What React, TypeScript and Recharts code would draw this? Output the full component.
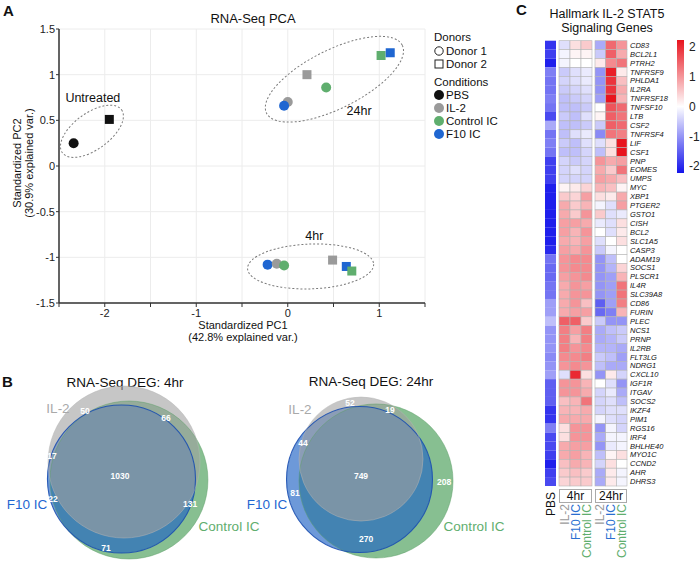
import React from 'react';
import { ScatterChart, Scatter, XAxis, YAxis, CartesianGrid, ReferenceArea } from 'recharts';

const FONT = '"Liberation Sans", Arial, Helvetica, sans-serif';

// ---------------- Panel A: PCA ----------------
const conditionNames = ['PBS', 'IL-2', 'Control IC', 'F10 IC'];
const conditionColors = ['#111111', '#9a9a9a', '#5fae6e', '#1f66d1'];
const pcaCondition = ['PBS', 'PBS', 'IL-2', 'F10 IC', 'IL-2', 'Control IC', 'Control IC', 'F10 IC', 'F10 IC', 'IL-2', 'Control IC', 'IL-2', 'F10 IC', 'Control IC'];
const pcaDonor = [1, 2, 1, 1, 2, 1, 2, 2, 1, 1, 1, 2, 2, 2];
const pcaPC1 = [-2.34, -1.95, 0.0, -0.04, 0.21, 0.42, 1.02, 1.12, -0.22, -0.12, -0.04, 0.49, 0.64, 0.7];
const pcaPC2 = [0.25, 0.51, 0.7, 0.66, 1.0, 0.86, 1.21, 1.24, -1.08, -1.07, -1.09, -1.03, -1.1, -1.15];
const pcaXTicks = [-2.5, -2, -1.5, -1, -0.5, 0, 0.5, 1, 1.5];
const pcaYTicks = [-1.5, -1, -0.5, 0, 0.5, 1, 1.5];

const groupNames = ['Untreated', '24hr', '4hr'];
const groupCenterPC1 = [-2.14, 0.51, 0.25];
const groupCenterPC2 = [0.38, 0.95, -1.1];
const groupSemiMajor = [0.4, 0.83, 0.69];
const groupSemiMinor = [0.2, 0.32, 0.245];
const groupAngle = [-36, -26.6, -2];
const groupLabelPC1 = [-2.13, 0.78, 0.29];
const groupLabelPC2 = [0.74, 0.6, -0.77];

// ---------------- Panel B: Venn ----------------
const vennSets = ['Control IC', 'F10 IC', 'IL-2'];
const vennFill = ['#5fa96c', '#1f62c4', '#a0a0a0'];
const vennFillOpacity = [0.75, 0.65, 0.6];
const vennStroke = ['#5c9e68', '#1b4fb0', '#b5b5b5'];
const venn4hX = [0.053, -0.047, -0.013];
const venn4hY = [-0.067, -0.053, 0.173];
const venn4hR = [1.053, 0.987, 1.013];
const venn24hX = [0.08, -0.14, -0.12];
const venn24hY = [-0.08, -0.06, 0.213];
const venn24hR = [1.027, 0.973, 0.827];
const venn4hCounts = ['50', '66', '17', '1030', '22', '131', '71'];
const venn4hCountX = [-0.533, 0.547, -0.973, -0.067, -0.96, 0.867, -0.253];
const venn4hCountY = [0.853, 0.76, 0.253, -0.013, -0.32, -0.387, -0.973];
const venn24hCounts = ['52', '19', '44', '749', '81', '208', '270'];
const venn24hCountX = [-0.267, 0.267, -0.893, -0.12, -1.0, 0.987, -0.053];
const venn24hCountY = [0.96, 0.867, 0.427, -0.013, -0.24, -0.093, -0.853];

// ---------------- Panel C: heatmap ----------------
const genes = ['CD83', 'BCL2L1', 'PTRH2', 'TNFRSF9', 'PHLDA1', 'IL2RA', 'TNFRSF18', 'TNFSF10', 'LTB', 'CSF2', 'TNFRSF4', 'LIF', 'CSF1', 'PNP', 'EOMES', 'UMPS', 'MYC', 'XBP1', 'PTGER2', 'GSTO1', 'CISH', 'BCL2', 'SLC1A5', 'CASP3', 'ADAM19', 'SOCS1', 'PLSCR1', 'IL4R', 'SLC39A8', 'CD86', 'FURIN', 'PLEC', 'NCS1', 'PRNP', 'IL2RB', 'FLT3LG', 'NDRG1', 'CXCL10', 'IGF1R', 'ITGAV', 'SOCS2', 'IKZF4', 'PIM1', 'RGS16', 'IRF4', 'BHLHE40', 'MYO1C', 'CCND2', 'AHR', 'DHRS3'];
const hmPBS = [-1.9, -1.8, -2.1, -1.2, -1.3, -1.3, -1.2, -1.3, -1.7, -0.8, -1.3, -1.2, -1.3, -1.8, -1.8, -1.8, -2.1, -2.1, -2.1, -2.1, -2.1, -2.1, -2.1, -2.0, -1.3, -1.4, -1.4, -1.3, -1.3, -0.9, -0.9, -0.6, -1.0, -1.0, -1.0, -1.1, -1.0, -0.9, -1.5, -1.5, -1.5, -1.9, -1.9, -1.2, -1.7, -1.7, -1.8, -2.1, -1.8, -1.7];
const hmIL2_4h = [-0.3, -0.1, -0.1, -0.5, -0.4, -0.5, -0.6, -0.6, -0.5, -0.6, -0.6, -0.5, -0.6, -0.4, -0.4, -0.4, 0.1, 0.5, 0.8, 0.8, 0.9, 0.9, 0.8, 0.9, 1.0, 1.0, 0.9, 0.8, 0.8, 0.8, 0.8, 1.5, 1.2, 1.2, 1.2, 1.1, 1.0, -0.3, 1.0, 1.0, 0.6, 0.7, 0.8, 0.3, 0.3, 0.8, 0.8, 0.6, 0.5, 0.4];
const hmF10_4h = [0.3, 0.1, 0.0, -0.3, -0.3, -0.4, -0.5, -0.6, -0.6, -0.6, -0.3, -0.6, -0.6, -0.5, -0.3, -0.4, 0.2, 0.4, 0.5, 0.5, 0.9, 0.7, 0.7, 0.8, 1.1, 1.1, 1.0, 1.0, 1.0, 1.0, 0.9, 1.5, 0.9, 0.7, 1.0, 1.1, 1.1, 2.0, 1.0, 1.0, 0.7, 0.7, 0.8, 1.0, 1.0, 0.9, 0.9, 0.8, 0.6, 0.5];
const hmCtrl_4h = [0.5, 0.1, 0.0, -0.2, -0.2, -0.3, -0.4, -0.5, -0.3, -0.5, -0.2, -0.3, -0.4, -0.4, -0.4, -0.4, 0.4, 0.9, 0.7, 1.0, 0.8, 1.0, 0.9, 1.0, 1.1, 1.1, 1.1, 0.9, 1.0, 0.6, 0.9, 0.5, 1.2, 1.2, 1.1, 1.2, 1.0, 0.3, 0.7, 0.8, 1.3, 0.8, 0.8, 1.0, 1.0, 0.9, 0.7, 0.7, 0.5, 0.5];
const hmIL2_24h = [-0.8, -0.5, 0.2, -1.0, -1.0, -1.0, -0.9, 0.0, 0.1, -0.5, -1.1, -0.3, -0.6, 1.0, 0.8, 0.9, 0.7, 0.3, -0.1, 0.5, -0.2, 0.0, -0.3, -0.5, -1.0, -1.0, -1.0, -1.0, -1.0, -1.5, -1.4, -0.5, -0.8, -0.8, -0.7, -0.5, -0.6, -1.0, 0.0, -0.4, -0.4, -0.4, -0.1, -1.0, -0.8, -1.0, -0.6, -0.4, -0.8, -0.8];
const hmF10_24h = [1.4, 1.5, 1.1, 2.1, 1.9, 1.9, 2.2, 1.6, 1.5, 1.5, 1.3, 0.3, 0.3, 0.8, 0.5, 0.8, 0.6, 0.2, -0.3, -0.3, -0.3, -0.3, 0.0, -0.1, -0.6, -0.7, -0.9, -0.9, -0.9, -0.9, -1.2, -1.0, -0.6, -0.7, -0.7, -0.6, -0.8, 0.2, -0.3, -0.2, -0.3, -0.3, -0.3, -0.1, -0.1, -0.2, 0.1, 0.3, 0.2, 0.2];
const hmCtrl_24h = [1.0, 0.8, 1.3, 0.2, 0.6, 0.8, 0.7, 1.4, 1.3, 1.4, 1.2, 2.2, 2.2, 0.9, 1.3, 0.6, 0.1, 0.8, 0.9, -0.2, 0.3, 0.2, 0.3, 0.0, 0.0, 0.4, 0.7, 1.3, 1.3, 1.2, 0.7, -1.0, -0.5, -0.5, -0.8, -0.9, -0.8, -0.4, -1.0, -0.8, -0.6, -0.3, -0.4, -0.4, -0.1, -0.1, 0.3, 0.0, -0.1, -0.1];
const colorbarTicks = [-2, -1, 0, 1, 2];

// ---------------- helpers ----------------
const condColor = (c: string) => conditionColors[conditionNames.indexOf(c)];

function heatColor(v: number) {
  const t = Math.max(-1, Math.min(1, v / 2.2));
  let r, g, b;
  if (t >= 0) {
    r = 255 + t * (232 - 255);
    g = 255 + t * (20 - 255);
    b = 255 + t * (30 - 255);
  } else {
    const s = -t;
    r = 255 + s * (20 - 255);
    g = 255 + s * (20 - 255);
    b = 255 + s * (235 - 255);
  }
  return `rgb(${Math.round(r)},${Math.round(g)},${Math.round(b)})`;
}

const T = ({ x, y, size = 12, color = '#111', weight = 400, anchor = 'middle', rotate = 0, italic = false, children }: any) => (
  <div
    style={{
      position: 'absolute',
      left: x,
      top: y,
      transform: `translate(${anchor === 'middle' ? '-50%' : anchor === 'end' ? '-100%' : '0'}, -50%) rotate(${rotate}deg)`,
      fontSize: size,
      color,
      fontWeight: weight,
      fontStyle: italic ? 'italic' : 'normal',
      whiteSpace: 'nowrap',
      lineHeight: 1,
      fontFamily: FONT,
    }}
  >
    {children}
  </div>
);

// PCA plot geometry
const PCA_W = 430, PCA_H = 345;
const PCA_M = { top: 29, right: 5, left: 0, bottom: 22 };
const PCA_YW = 59, PCA_XH = 20;
const PCA_KX = (PCA_W - PCA_M.left - PCA_M.right - PCA_YW) / 4;
const PCA_KY = (PCA_H - PCA_M.top - PCA_M.bottom - PCA_XH) / 3;

const sampleData = pcaPC1.map((x, i) => ({ x, y: pcaPC2[i], cond: pcaCondition[i], donor: pcaDonor[i] }));
const ellipseData = groupNames.map((n, i) => ({ x: groupCenterPC1[i], y: groupCenterPC2[i], a: groupSemiMajor[i], b: groupSemiMinor[i], angle: groupAngle[i] }));
const groupLabelData = groupNames.map((n, i) => ({ x: groupLabelPC1[i], y: groupLabelPC2[i], name: n }));

const SampleShape = (p: any) => {
  const { cx, cy, payload } = p;
  const c = condColor(payload.cond);
  if (payload.donor === 2) return <rect x={cx - 4.5} y={cy - 4.5} width={9} height={9} fill={c} />;
  return <circle cx={cx} cy={cy} r={5} fill={c} />;
};
const EllipseShape = (p: any) => {
  const { cx, cy, payload } = p;
  const k = (PCA_KX + PCA_KY) / 2;
  return (
    <ellipse cx={cx} cy={cy} rx={payload.a * k} ry={payload.b * k} transform={`rotate(${payload.angle} ${cx} ${cy})`}
      fill="none" stroke="#7a7a7a" strokeWidth={1} strokeDasharray="2 2" />
  );
};
const GroupLabelShape = (p: any) => (
  <text x={p.cx} y={p.cy} textAnchor="middle" dominantBaseline="central" fontSize={12.5} fill="#111" fontFamily={FONT}>{p.payload.name}</text>
);

function PcaChart() {
  return (
    <div style={{ position: 'absolute', left: 0, top: 0 }}>
      <ScatterChart width={PCA_W} height={PCA_H} margin={PCA_M}>
        <CartesianGrid stroke="#ececec" />
        <XAxis type="number" dataKey="x" domain={[-2.5, 1.5]} ticks={pcaXTicks} interval={0} height={PCA_XH}
          tickFormatter={(v: number) => (Number.isInteger(v) ? String(v) : '')}
          tick={{ fontSize: 11, fill: '#222', fontFamily: FONT }} tickSize={4} tickMargin={2}
          axisLine={{ stroke: '#333', strokeWidth: 1.5 }} tickLine={{ stroke: '#333' }} />
        <YAxis type="number" dataKey="y" domain={[-1.5, 1.5]} ticks={pcaYTicks} interval={0} width={PCA_YW}
          tickFormatter={(v: number) => String(v)}
          tick={{ fontSize: 11, fill: '#222', fontFamily: FONT }} tickSize={3} tickMargin={1}
          axisLine={{ stroke: '#333', strokeWidth: 1.5 }} tickLine={{ stroke: '#333' }} />
        <Scatter data={ellipseData} shape={EllipseShape} isAnimationActive={false} />
        <Scatter data={groupLabelData} shape={GroupLabelShape} isAnimationActive={false} />
        <Scatter data={sampleData} shape={SampleShape} isAnimationActive={false} />
      </ScatterChart>
    </div>
  );
}

function PcaLegend() {
  const rows = [
    { kind: 'title', text: 'Donors', y: 37 },
    { kind: 'donor1', text: 'Donor 1', y: 51 },
    { kind: 'donor2', text: 'Donor 2', y: 64 },
    { kind: 'title', text: 'Conditions', y: 82 },
    ...conditionNames.map((c, i) => ({ kind: 'cond', text: c, y: [95, 108, 121, 134][i], color: conditionColors[i] })),
  ];
  return (
    <svg style={{ position: 'absolute', left: 0, top: 0 }} width={530} height={150}>
      {rows.map((r: any, i) => (
        <g key={i}>
          {r.kind === 'donor1' && <circle cx={439} cy={r.y} r={4.2} fill="none" stroke="#222" strokeWidth={1} />}
          {r.kind === 'donor2' && <rect x={435} y={r.y - 4} width={8} height={8} fill="none" stroke="#222" strokeWidth={1} />}
          {r.kind === 'cond' && <circle cx={439} cy={r.y} r={5} fill={r.color} />}
          <text x={r.kind === 'title' ? 434 : 446} y={r.y} dominantBaseline="central" fontSize={11.5} fill="#111" fontFamily={FONT}>{r.text}</text>
        </g>
      ))}
    </svg>
  );
}

// Venn
const VENN_W = 250, VENN_H = 180, VENN_K = 75;
function VennChart({ left, cx, cy, cr, labels, lx, ly }: any) {
  const circles = vennSets.map((s, i) => ({ x: cx[i], y: cy[i], r: cr[i], i }));
  const counts = labels.map((t: string, i: number) => ({ x: lx[i], y: ly[i], t }));
  const FillShape = (p: any) => (
    <circle cx={p.cx} cy={p.cy} r={p.payload.r * VENN_K} fill={vennFill[p.payload.i]} fillOpacity={vennFillOpacity[p.payload.i]} stroke="none" />
  );
  const StrokeShape = (p: any) => (
    <circle cx={p.cx} cy={p.cy} r={p.payload.r * VENN_K} fill="none" stroke={vennStroke[p.payload.i]} strokeWidth={p.payload.i === 1 ? 1.1 : 0.8} strokeOpacity={p.payload.i === 1 ? 0.9 : 0.6} />
  );
  const CountShape = (p: any) => (
    <text x={p.cx} y={p.cy} textAnchor="middle" dominantBaseline="central" fontSize={8.5} fontWeight={700} fill="#ffffff" fontFamily={FONT}>{p.payload.t}</text>
  );
  return (
    <div style={{ position: 'absolute', left, top: 385 }}>
      <ScatterChart width={VENN_W} height={VENN_H} margin={{ top: 0, right: 0, bottom: 0, left: 0 }}>
        <XAxis type="number" dataKey="x" domain={[-VENN_W / 2 / VENN_K, VENN_W / 2 / VENN_K]} hide />
        <YAxis type="number" dataKey="y" domain={[-VENN_H / 2 / VENN_K, VENN_H / 2 / VENN_K]} hide />
        <Scatter data={circles} shape={FillShape} isAnimationActive={false} />
        <Scatter data={circles} shape={StrokeShape} isAnimationActive={false} />
        <Scatter data={counts} shape={CountShape} isAnimationActive={false} />
      </ScatterChart>
    </div>
  );
}

// Heatmap
const HM_TOP = 40.7, HM_H = 445.3, HM_XH = 75;
function HeatBlock({ left, plotW, cols, labelOffset, showGenes, bordered }: any) {
  const n = cols.length;
  const data: any[] = [];
  cols.forEach((c: any, ci: number) => c.values.forEach((v: number, ri: number) => data.push({ x: ci, y: ri, v })));
  const cw = plotW / n;
  const ch = HM_H / genes.length;
  const geneW = 70;
  const width = 5 + plotW + (showGenes ? geneW : 5);
  const CellShape = (p: any) => (
    <rect x={p.cx - cw / 2} y={p.cy - ch / 2} width={cw} height={ch} fill={heatColor(p.payload.v)}
      stroke={bordered ? '#b4b4b4' : 'none'} strokeWidth={0.6} />
  );
  const ColTick = (p: any) => {
    const c = cols[p.payload.value];
    if (!c) return <g />;
    return (
      <text transform={`translate(${p.x + 4},${p.y + labelOffset}) rotate(-90)`} textAnchor="end" fontSize={12} fill={c.color} fontFamily={FONT}>{c.label}</text>
    );
  };
  return (
    <div style={{ position: 'absolute', left: left - 5, top: 0 }}>
      <ScatterChart width={width} height={HM_TOP + HM_H + HM_XH} margin={{ top: HM_TOP, left: 5, right: showGenes ? 0 : 5, bottom: 0 }}>
        <XAxis type="number" dataKey="x" domain={[-0.5, n - 0.5]} ticks={cols.map((_: any, i: number) => i)} interval={0}
          height={HM_XH} tickLine={false} axisLine={false} tickSize={0} tickMargin={0} tick={ColTick} />
        {showGenes ? (
          <YAxis type="number" dataKey="y" domain={[-0.5, genes.length - 0.5]} reversed orientation="right" width={geneW}
            ticks={genes.map((_, i) => i)} interval={0} tickFormatter={(v: number) => genes[v] ?? ''}
            tickLine={false} axisLine={false} tickSize={0} tickMargin={3}
            tick={{ fontSize: 7.5, fontStyle: 'italic', fill: '#111', fontFamily: FONT, textAnchor: 'start' }} />
        ) : (
          <YAxis type="number" dataKey="y" domain={[-0.5, genes.length - 0.5]} reversed hide />
        )}
        <Scatter data={data} shape={CellShape} isAnimationActive={false} />
      </ScatterChart>
    </div>
  );
}

function Colorbar() {
  return (
    <div style={{ position: 'absolute', left: 672, top: 0 }}>
      <ScatterChart width={34} height={200} margin={{ top: 40, left: 5, right: 0, bottom: 27 }}>
        <XAxis type="number" dataKey="x" domain={[0, 1]} hide />
        <YAxis type="number" dataKey="y" domain={[-2.23, 2.23]} orientation="right" width={22} ticks={colorbarTicks}
          interval={0} tickLine={false} axisLine={false} tickSize={0} tickMargin={5}
          tick={{ fontSize: 12, fill: '#222', fontFamily: FONT }} />
        <ReferenceArea x1={0} x2={1} y1={-2.23} y2={2.23} fill="url(#hmGrad)" fillOpacity={1} stroke="none" />
        <Scatter data={colorbarTicks.map((t) => ({ x: 0.5, y: t }))} shape={() => <g />} isAnimationActive={false} />
      </ScatterChart>
    </div>
  );
}

const c4 = [
  { label: 'IL-2', color: '#9a9a9a', values: hmIL2_4h },
  { label: 'F10 IC', color: '#2a6fd0', values: hmF10_4h },
  { label: 'Control IC', color: '#5fae6e', values: hmCtrl_4h },
];
const c24 = [
  { label: 'IL-2', color: '#9a9a9a', values: hmIL2_24h },
  { label: 'F10 IC', color: '#2a6fd0', values: hmF10_24h },
  { label: 'Control IC', color: '#5fae6e', values: hmCtrl_24h },
];
const cPBS = [{ label: 'PBS', color: '#111', values: hmPBS }];

export default function App() {
  return (
    <div style={{ position: 'absolute', left: 0, top: 0, width: 700, height: 565, overflow: 'hidden', background: '#fff', fontFamily: FONT }}>
      <svg width={0} height={0} style={{ position: 'absolute' }}>
        <defs>
          <linearGradient id="hmGrad" x1="0" y1="0" x2="0" y2="1">
            <stop offset="0%" stopColor="rgb(232,20,30)" />
            <stop offset="50%" stopColor="#ffffff" />
            <stop offset="100%" stopColor="rgb(20,20,235)" />
          </linearGradient>
        </defs>
      </svg>

      {/* Panel A */}
      <T x={3} y={10} size={15} weight={700} anchor="start">A</T>
      <T x={253} y={18} size={13}>RNA-Seq PCA</T>
      <PcaChart />
      <PcaLegend />
      <T x={17} y={163} size={11} rotate={-90}>Standardized PC2</T>
      <T x={29} y={163} size={11} rotate={-90}>(30.9% explained var.)</T>
      <T x={243} y={325} size={11}>Standardized PC1</T>
      <T x={243} y={337} size={11}>(42.8% explained var.)</T>

      {/* Panel B */}
      <T x={2} y={381} size={15} weight={700} anchor="start">B</T>
      <T x={125} y={383} size={13.5}>RNA-Seq DEG: 4hr</T>
      <T x={371} y={382} size={13.5}>RNA-Seq DEG: 24hr</T>
      <VennChart left={0} cx={venn4hX} cy={venn4hY} cr={venn4hR} labels={venn4hCounts} lx={venn4hCountX} ly={venn4hCountY} />
      <VennChart left={245} cx={venn24hX} cy={venn24hY} cr={venn24hR} labels={venn24hCounts} lx={venn24hCountX} ly={venn24hCountY} />
      <T x={58} y={409} size={13.5} color="#a9a9a9">IL-2</T>
      <T x={27} y={505} size={13.5} color="#1f66d1">F10 IC</T>
      <T x={229} y={527} size={13.5} color="#5fae6e">Control IC</T>
      <T x={300} y={410} size={13.5} color="#a9a9a9">IL-2</T>
      <T x={267} y={505} size={13.5} color="#1f66d1">F10 IC</T>
      <T x={474} y={527} size={13.5} color="#5fae6e">Control IC</T>

      {/* Panel C */}
      <T x={516} y={9} size={15} weight={700} anchor="start">C</T>
      <T x={607} y={14} size={12.5}>Hallmark IL-2 STAT5</T>
      <T x={607} y={28} size={12.5}>Signaling Genes</T>
      <HeatBlock left={545} plotW={11} cols={cPBS} labelOffset={6} showGenes={false} bordered={false} />
      <HeatBlock left={559} plotW={33} cols={c4} labelOffset={18} showGenes={false} bordered={true} />
      <HeatBlock left={595} plotW={32} cols={c24} labelOffset={18} showGenes={true} bordered={true} />
      <div style={{ position: 'absolute', left: 559, top: 489, width: 31, height: 12, border: '1px solid #aaa', fontSize: 12, lineHeight: '12px', textAlign: 'center', color: '#111' }}>4hr</div>
      <div style={{ position: 'absolute', left: 595, top: 489, width: 30, height: 12, border: '1px solid #aaa', fontSize: 12, lineHeight: '12px', textAlign: 'center', color: '#111' }}>24hr</div>
      <Colorbar />
    </div>
  );
}
